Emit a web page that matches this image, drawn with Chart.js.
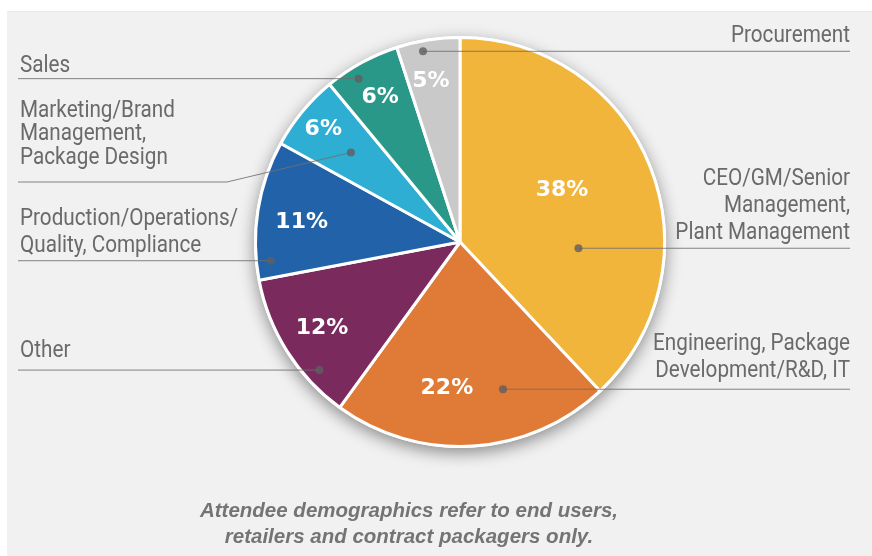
<!DOCTYPE html>
<html>
<head>
<meta charset="utf-8">
<script src="https://cdn.jsdelivr.net/npm/chart.js@4.4.1/dist/chart.umd.min.js"></script>
<style>
  html, body { margin: 0; padding: 0; background: #ffffff; }
  canvas { display: block; }
</style>
</head>
<body>
<canvas id="chart" width="872" height="556"></canvas>
<script>
// Attendee job functions, share of attendees (%)
const categories = [
  'CEO/GM/Senior Management, Plant Management',
  'Engineering, Package Development/R&D, IT',
  'Other',
  'Production/Operations/Quality, Compliance',
  'Marketing/Brand Management, Package Design',
  'Sales',
  'Procurement'
];
const shares = [38, 22, 12, 11, 6, 6, 5];

// Category text as it is broken over lines beside the pie
const labelLines = [
  ['CEO/GM/Senior', 'Management,', 'Plant Management'],
  ['Engineering, Package', 'Development/R&D, IT'],
  ['Other'],
  ['Production/Operations/', 'Quality, Compliance'],
  ['Marketing/Brand', 'Management,', 'Package Design'],
  ['Sales'],
  ['Procurement']
];

const footnoteLines = [
  'Attendee demographics refer to end users,',
  'retailers and contract packagers only.'
];

const sliceColors = ['#f2b53b', '#e07a37', '#7b2a5e', '#2262a8', '#2faed3', '#2a9889', '#c9c9c9'];

// Callout layout: where the dot sits inside its slice (fraction of the slice's
// sweep, fraction of the radius), which side the text goes, and text baselines.
const calloutLayout = [
  { side: 'right', along: 0.68, depth: 0.58, firstBaseline: 185, pitch: 27 },
  { side: 'right', along: 0.34, depth: 0.75, firstBaseline: 350, pitch: 27 },
  { side: 'left',  along: 0.27, depth: 0.93, firstBaseline: 357, pitch: 25 },
  { side: 'left',  along: 0.13, depth: 0.93, firstBaseline: 225, pitch: 26.5 },
  { side: 'left',  along: 0.49, depth: 0.69, firstBaseline: 117, pitch: 23.3, lineY: 182, kinkX: 227 },
  { side: 'left',  along: 0.36, depth: 0.94, firstBaseline: 72,  pitch: 25 },
  { side: 'right', along: 0.39, depth: 0.95, firstBaseline: 42,  pitch: 25 }
];

// Where each percentage sits inside its slice
const valueLabelLayout = [
  { along: 0.46, depth: 0.56 },
  { along: 0.61, depth: 0.72 },
  { along: 0.51, depth: 0.795 },
  { along: 0.45, depth: 0.78 },
  { along: 0.49, depth: 0.865 },
  { along: 0.50, depth: 0.81 },
  { along: 0.43, depth: 0.80 }
];

const TEXT_GREY = '#6a6a6c';
const LEFT_X = 20, RIGHT_X = 850, LINE_LEFT = 18;
const LABEL_FONT = '23px Roboto, "Liberation Sans", sans-serif';
const LABEL_SQUEEZE = 0.9; // narrow, condensed look for the category text

function arcPoint(arc, along, depth) {
  const p = arc.getProps(['x', 'y', 'startAngle', 'endAngle', 'outerRadius'], true);
  const a = p.startAngle + along * (p.endAngle - p.startAngle);
  const r = depth * p.outerRadius;
  return { x: p.x + r * Math.cos(a), y: p.y + r * Math.sin(a) };
}

const backdrop = {
  id: 'backdrop',
  beforeDraw(chart) {
    const ctx = chart.ctx;
    ctx.save();
    ctx.fillStyle = '#ffffff';
    ctx.fillRect(0, 0, chart.width, chart.height);
    ctx.fillStyle = '#f1f1f1';
    ctx.fillRect(7, 11, chart.width - 7, chart.height - 11);
    ctx.fillStyle = '#e9e9e9';
    ctx.fillRect(7, 11, chart.width - 7, 1);
    ctx.restore();
  }
};

const pieShadow = {
  id: 'pieShadow',
  beforeDatasetsDraw(chart) {
    const arc = chart.getDatasetMeta(0).data[0];
    if (!arc) return;
    const p = arc.getProps(['x', 'y', 'outerRadius'], true);
    const ctx = chart.ctx;
    ctx.save();
    ctx.shadowColor = 'rgba(0,0,0,0.42)';
    ctx.shadowBlur = 16;
    ctx.shadowOffsetY = 5;
    ctx.fillStyle = '#ffffff';
    ctx.beginPath();
    ctx.arc(p.x, p.y, p.outerRadius + 1.5, 0, Math.PI * 2);
    ctx.fill();
    ctx.restore();
  }
};

const callouts = {
  id: 'callouts',
  afterDatasetsDraw(chart) {
    const ctx = chart.ctx;
    const arcs = chart.getDatasetMeta(0).data;
    ctx.save();

    // leader lines and dots
    arcs.forEach((arc, i) => {
      const L = calloutLayout[i];
      const dot = arcPoint(arc, L.along, L.depth);
      ctx.strokeStyle = 'rgba(110,110,112,0.85)';
      ctx.lineWidth = 1;
      ctx.beginPath();
      if (L.side === 'left') {
        const y = L.lineY !== undefined ? L.lineY : dot.y;
        ctx.moveTo(LINE_LEFT, y);
        if (L.kinkX !== undefined) ctx.lineTo(L.kinkX, y);
        ctx.lineTo(dot.x, dot.y);
      } else {
        ctx.moveTo(dot.x, dot.y);
        ctx.lineTo(RIGHT_X, dot.y);
      }
      ctx.stroke();
      ctx.fillStyle = 'rgba(95,95,98,0.8)';
      ctx.beginPath();
      ctx.arc(dot.x, dot.y, 4, 0, Math.PI * 2);
      ctx.fill();
    });

    // category text
    ctx.fillStyle = TEXT_GREY;
    ctx.font = LABEL_FONT;
    ctx.textBaseline = 'alphabetic';
    labelLines.forEach((lines, i) => {
      const L = calloutLayout[i];
      ctx.textAlign = L.side === 'left' ? 'left' : 'right';
      const x = L.side === 'left' ? LEFT_X : RIGHT_X;
      lines.forEach((t, k) => {
        ctx.save();
        ctx.translate(x, L.firstBaseline + k * L.pitch);
        ctx.scale(LABEL_SQUEEZE, 1);
        ctx.fillText(t, 0, 0);
        ctx.restore();
      });
    });

    // percentages
    ctx.font = 'bold 22px "DejaVu Sans", sans-serif';
    ctx.textAlign = 'center';
    ctx.textBaseline = 'middle';
    ctx.fillStyle = '#ffffff';
    arcs.forEach((arc, i) => {
      const V = valueLabelLayout[i];
      const pt = arcPoint(arc, V.along, V.depth);
      ctx.fillText(shares[i] + '%', pt.x, pt.y);
    });

    // footnote
    ctx.font = 'italic bold 20.5px "Liberation Sans", Arial, sans-serif';
    ctx.fillStyle = '#747476';
    ctx.textBaseline = 'alphabetic';
    ctx.fillText(footnoteLines[0], 409, 517);
    ctx.fillText(footnoteLines[1], 409, 543);

    ctx.restore();
  }
};

new Chart(document.getElementById('chart'), {
  type: 'pie',
  data: {
    labels: categories,
    datasets: [{
      data: shares,
      backgroundColor: sliceColors,
      borderColor: '#ffffff',
      borderWidth: 3
    }]
  },
  options: {
    responsive: false,
    animation: false,
    events: [],
    devicePixelRatio: 1,
    layout: { padding: { left: 254, right: 206, top: 36, bottom: 108 } },
    plugins: {
      legend: { display: false },
      tooltip: { enabled: false }
    }
  },
  plugins: [backdrop, pieShadow, callouts]
});
</script>
</body>
</html>
